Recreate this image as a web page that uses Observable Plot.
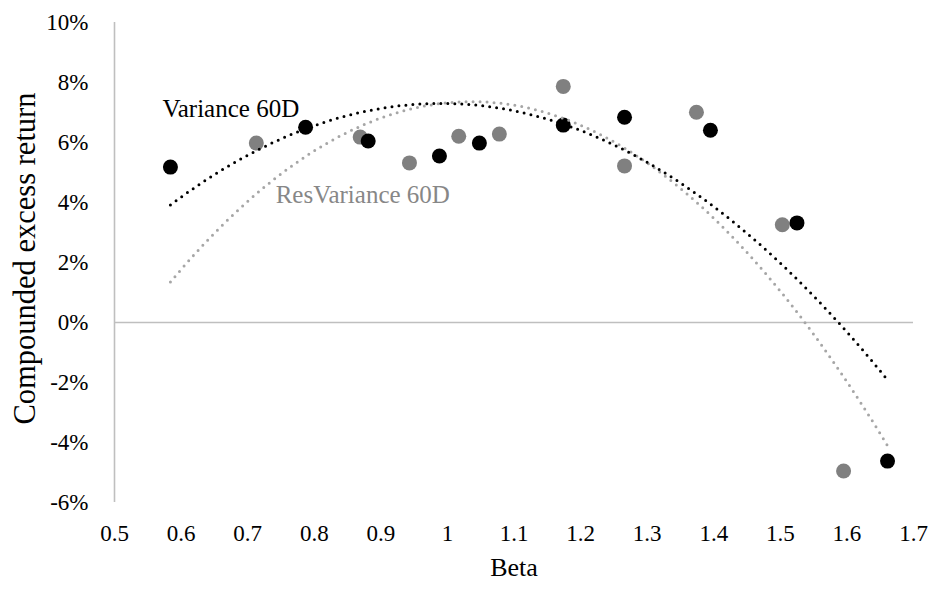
<!DOCTYPE html>
<html>
<head>
<meta charset="utf-8">
<script src="https://cdn.jsdelivr.net/npm/d3@7"></script>
<script src="https://cdn.jsdelivr.net/npm/@observablehq/plot@0.6"></script>
<style>
  html, body { margin: 0; padding: 0; background: #fff; }
</style>
</head>
<body>
<div id="chart"></div>
<script>
// Decile portfolios: beta vs compounded excess return (%)
const varianceBeta   = [0.584, 0.787, 0.881, 0.988, 1.048, 1.174, 1.266, 1.395, 1.525, 1.661];
const varianceReturn = [5.18, 6.51, 6.05, 5.55, 5.98, 6.58, 6.84, 6.41, 3.32, -4.62];

const resVarianceBeta   = [0.713, 0.869, 0.943, 1.017, 1.078, 1.174, 1.266, 1.374, 1.503, 1.595];
const resVarianceReturn = [5.98, 6.18, 5.32, 6.21, 6.28, 7.87, 5.22, 7.01, 3.26, -4.95];

const seriesNames = ["Variance 60D", "ResVariance 60D"];
const xTicks = [0.5, 0.6, 0.7, 0.8, 0.9, 1.0, 1.1, 1.2, 1.3, 1.4, 1.5, 1.6, 1.7];
const yTicks = [-6, -4, -2, 0, 2, 4, 6, 8, 10];

const toRows = (xs, ys, series) => xs.map((x, i) => ({beta: x, ret: ys[i], series}));
const variance = toRows(varianceBeta, varianceReturn, seriesNames[0]);
const resVariance = toRows(resVarianceBeta, resVarianceReturn, seriesNames[1]);

// Second-order polynomial least-squares trend line
function quadFit(rows) {
  const S = [0, 0, 0, 0, 0], T = [0, 0, 0];
  for (const {beta: x, ret: y} of rows) {
    for (let k = 0; k < 5; k++) S[k] += x ** k;
    for (let k = 0; k < 3; k++) T[k] += y * x ** k;
  }
  const A = [[S[0], S[1], S[2], T[0]], [S[1], S[2], S[3], T[1]], [S[2], S[3], S[4], T[2]]];
  for (let i = 0; i < 3; i++) {
    for (let j = i + 1; j < 3; j++) {
      const f = A[j][i] / A[i][i];
      for (let k = i; k < 4; k++) A[j][k] -= f * A[i][k];
    }
  }
  const c = [0, 0, 0];
  for (let i = 2; i >= 0; i--) {
    let s = A[i][3];
    for (let k = i + 1; k < 3; k++) s -= A[i][k] * c[k];
    c[i] = s / A[i][i];
  }
  return x => c[0] + c[1] * x + c[2] * x * x;
}

const [xMin, xMax] = d3.extent([...varianceBeta, ...resVarianceBeta]);
function trend(rows) {
  const f = quadFit(rows);
  return d3.range(0, 201).map(i => {
    const x = xMin + (xMax - xMin) * i / 200;
    return {beta: x, ret: f(x)};
  });
}

const black = "#000000";
const grey = "#808080";
const greyTrend = "#a6a6a6";
const axisGrey = "#bfbfbf";
const font = "'Liberation Serif', 'DejaVu Serif', serif";

const chart = Plot.plot({
  width: 933,
  height: 590,
  marginLeft: 114,
  marginRight: 20,
  marginTop: 22,
  marginBottom: 88,
  style: {fontFamily: font, color: "#000", background: "#fff"},
  x: {domain: [0.5, 1.7]},
  y: {domain: [-6, 10]},
  marks: [
    Plot.axisX({ticks: xTicks, tickSize: 0, tickPadding: 22, fontSize: 23, fill: black,
      tickFormat: d => String(+d.toFixed(1)), label: null}),
    Plot.axisY({ticks: yTicks, tickSize: 0, tickPadding: 26, fontSize: 23, fill: black,
      tickFormat: d => `${d}%`, label: null}),
    Plot.ruleX([0.5], {y1: -6, y2: 10, stroke: axisGrey, strokeWidth: 1.6}),
    Plot.ruleY([0], {x1: 0.5, x2: 1.7, stroke: axisGrey, strokeWidth: 1.6}),
    Plot.dot(resVariance, {x: "beta", y: "ret", r: 7.5, fill: grey, stroke: "none"}),
    Plot.dot(variance, {x: "beta", y: "ret", r: 7.5, fill: black, stroke: "none"}),
    Plot.line(trend(resVariance), {x: "beta", y: "ret", stroke: greyTrend, strokeWidth: 3,
      strokeDasharray: "0 7", strokeLinecap: "round", curve: "linear"}),
    Plot.line(trend(variance), {x: "beta", y: "ret", stroke: black, strokeWidth: 3,
      strokeDasharray: "0 7", strokeLinecap: "round", curve: "linear"}),
    Plot.text([seriesNames[0]], {x: 0.572, y: 6.84, text: d => d, textAnchor: "start",
      lineAnchor: "bottom", fill: black, fontSize: 25}),
    Plot.text([seriesNames[1]], {x: 0.742, y: 3.97, text: d => d, textAnchor: "start",
      lineAnchor: "bottom", fill: "#878787", fontSize: 25}),
    Plot.text(["Beta"], {frameAnchor: "bottom", dy: 73, text: d => d, fontSize: 26, fill: black}),
    Plot.text(["Compounded excess return"], {frameAnchor: "left", dx: -89, dy: -4, rotate: -90,
      textAnchor: "middle", text: d => d, fontSize: 30.5, fill: black})
  ]
});

document.getElementById("chart").appendChild(chart);
</script>
</body>
</html>
